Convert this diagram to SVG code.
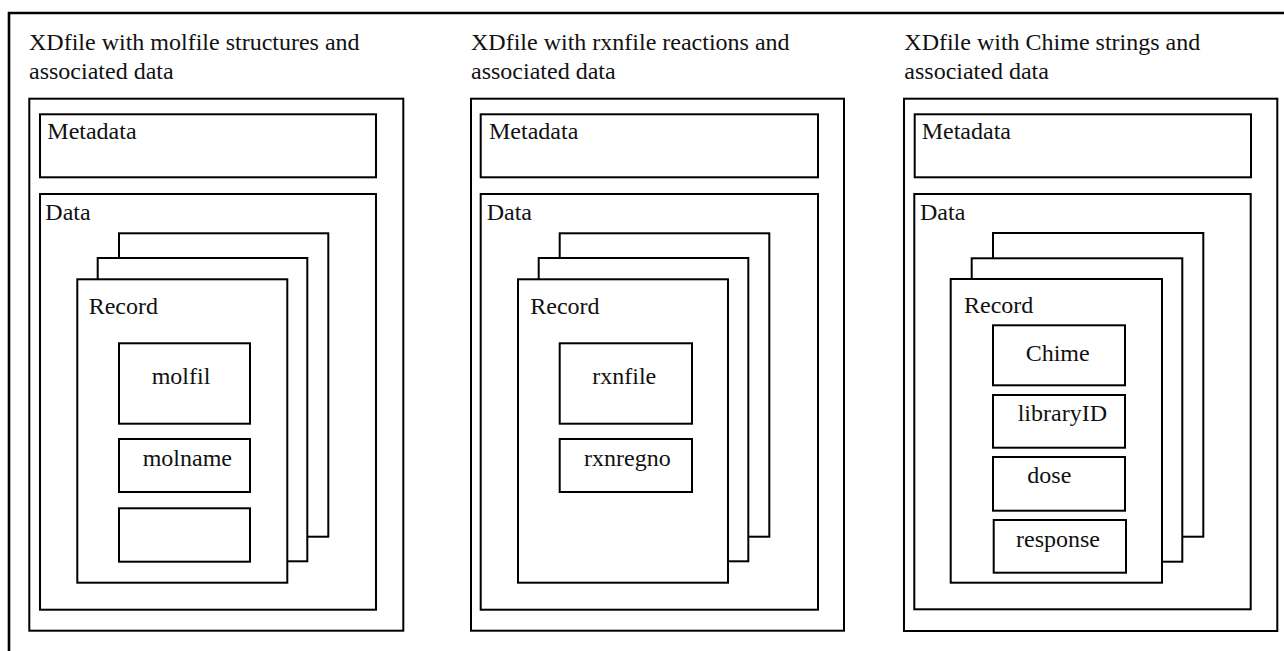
<svg xmlns="http://www.w3.org/2000/svg" width="1284" height="651" viewBox="0 0 1284 651">
<style>
.frame{fill:none;stroke:#000;stroke-width:2.6}
.box{fill:#fff;stroke:#000;stroke-width:2}
</style>
<rect x="0" y="0" width="1284" height="651" fill="#fff"/>
<path class="frame" d="M9,652 V13 H1290"/>
<g font-family="Liberation Serif, Times New Roman, DejaVu Serif, serif" font-size="24" fill="#111">
<g id="panel-molfile">
  <text x="29" y="50">XDfile with molfile structures and</text>
  <text x="29" y="79">associated data</text>
  <rect class="box" x="29.3" y="98.7" width="374" height="532"/>
  <g id="metadata-1"><rect class="box" x="40" y="114.3" width="336" height="63"/><text x="47.3" y="139.3">Metadata</text></g>
  <g id="data-1">
    <rect class="box" x="40" y="194" width="336" height="415.7"/>
    <text x="45.3" y="220">Data</text>
    <rect class="box" x="119" y="233.3" width="209.3" height="303.4"/>
    <rect class="box" x="97.7" y="258" width="209.6" height="303.3"/>
    <g id="record-1">
      <rect class="box" x="77.3" y="279.3" width="210" height="303.4"/>
      <text x="88.7" y="314">Record</text>
      <g id="molfil"><rect class="box" x="119" y="343.3" width="131" height="80.4"/><text x="151.7" y="384.3">molfil</text></g>
      <g id="molname"><rect class="box" x="119" y="439" width="131" height="53"/><text x="142.7" y="465.7">molname</text></g>
      <g id="empty-field"><rect class="box" x="119" y="508.3" width="131" height="53.4"/></g>
    </g>
  </g>
</g>
<g id="panel-rxnfile">
  <text x="471" y="50">XDfile with rxnfile reactions and</text>
  <text x="471" y="79">associated data</text>
  <rect class="box" x="471" y="98.7" width="373" height="532"/>
  <g id="metadata-2"><rect class="box" x="480.7" y="114.3" width="337.3" height="63"/><text x="489" y="139.3">Metadata</text></g>
  <g id="data-2">
    <rect class="box" x="480.7" y="194" width="337.3" height="415.7"/>
    <text x="486.7" y="220">Data</text>
    <rect class="box" x="559.7" y="233.3" width="209.6" height="303.4"/>
    <rect class="box" x="538.7" y="258" width="209.6" height="303.3"/>
    <g id="record-2">
      <rect class="box" x="518" y="279.3" width="210" height="303.4"/>
      <text x="530.3" y="314">Record</text>
      <g id="rxnfile"><rect class="box" x="559.7" y="343.3" width="132.3" height="80.4"/><text x="592.3" y="384.3">rxnfile</text></g>
      <g id="rxnregno"><rect class="box" x="559.7" y="439" width="132.3" height="53"/><text x="584" y="465.7">rxnregno</text></g>
    </g>
  </g>
</g>
<g id="panel-chime">
  <text x="904.3" y="50">XDfile with Chime strings and</text>
  <text x="904.3" y="79">associated data</text>
  <rect class="box" x="904" y="98.7" width="373.3" height="532.3"/>
  <g id="metadata-3"><rect class="box" x="914.7" y="114.3" width="336.3" height="63"/><text x="921.7" y="139.3">Metadata</text></g>
  <g id="data-3">
    <rect class="box" x="914.3" y="194" width="336.4" height="415.3"/>
    <text x="920" y="220">Data</text>
    <rect class="box" x="993" y="233" width="210.3" height="303.7"/>
    <rect class="box" x="971.7" y="258.3" width="210.6" height="303.4"/>
    <g id="record-3">
      <rect class="box" x="950.7" y="279" width="211.3" height="303.7"/>
      <text x="964" y="313.3">Record</text>
      <g id="chime"><rect class="box" x="993" y="325.3" width="132" height="60"/><text x="1025.7" y="360.7">Chime</text></g>
      <g id="libraryID"><rect class="box" x="993" y="395" width="132" height="52.7"/><text x="1017.7" y="420.7">libraryID</text></g>
      <g id="dose"><rect class="box" x="993" y="457" width="132" height="53.7"/><text x="1027.3" y="483.3">dose</text></g>
      <g id="response"><rect class="box" x="993.7" y="520" width="132.3" height="52.7"/><text x="1016" y="546.7">response</text></g>
    </g>
  </g>
</g>
</g>
<g id="connectors"></g>
</svg>
